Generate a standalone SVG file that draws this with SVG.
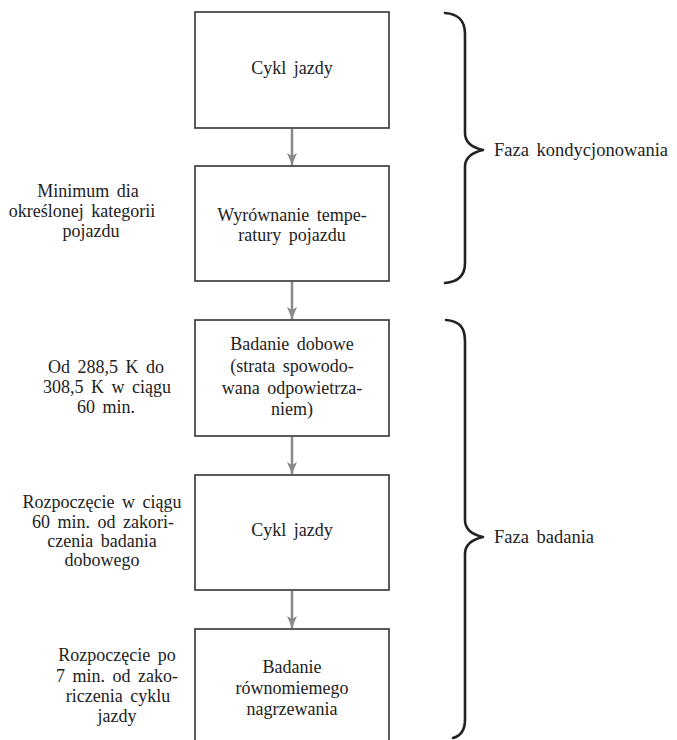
<svg xmlns="http://www.w3.org/2000/svg" width="677" height="740" viewBox="0 0 677 740">
  <style>
    .box { fill: #fff; stroke: #333; stroke-width: 1.6; }
    .t { font-family: "Liberation Serif", "DejaVu Serif", serif; font-size: 18px; fill: #222; text-anchor: middle; word-spacing: 3px; }
    .tl { font-family: "Liberation Serif", "DejaVu Serif", serif; font-size: 18.5px; fill: #222; word-spacing: 3px; }
    .conn { stroke: #8a8a8a; stroke-width: 2.5; fill: none; marker-end: url(#head); }
    .brace { stroke: #222; stroke-width: 2.6; fill: none; stroke-linecap: round; stroke-linejoin: round; }
  </style>
  <defs>
    <marker id="head" markerWidth="12" markerHeight="10" refX="12" refY="5" orient="auto" markerUnits="userSpaceOnUse">
      <path d="M0,0 L12,5 L0,10 L3,5 Z" fill="#8a8a8a"/>
    </marker>
  </defs>
  <rect width="677" height="740" fill="#fff"/>

  <!-- connectors between the steps -->
  <g id="connectors">
    <line class="conn" x1="292" y1="129" x2="292" y2="165"/>
    <line class="conn" x1="292" y1="282" x2="292" y2="319"/>
    <line class="conn" x1="292" y1="437" x2="292" y2="474"/>
    <line class="conn" x1="292" y1="591" x2="292" y2="628"/>
  </g>

  <g id="n1">
    <rect class="box" x="195" y="12" width="194" height="116"/>
    <text class="t" x="292" y="74">Cykl jazdy</text>
  </g>
  <g id="n2">
    <rect class="box" x="195" y="166" width="194" height="115"/>
    <text class="t" x="292" y="221">Wyrównanie tempe-</text>
    <text class="t" x="292" y="241">ratury pojazdu</text>
  </g>
  <g id="n3">
    <rect class="box" x="195" y="320" width="194" height="116"/>
    <text class="t" x="292" y="350">Badanie dobowe</text>
    <text class="t" x="292" y="372">(strata spowodo-</text>
    <text class="t" x="292" y="394">wana odpowietrza-</text>
    <text class="t" x="292" y="415">niem)</text>
  </g>
  <g id="n4">
    <rect class="box" x="195" y="475" width="194" height="115"/>
    <text class="t" x="292" y="536">Cykl jazdy</text>
  </g>
  <g id="n5">
    <rect class="box" x="195" y="629" width="194" height="130"/>
    <text class="t" x="292" y="673">Badanie</text>
    <text class="t" x="292" y="694">równomiemego</text>
    <text class="t" x="292" y="715">nagrzewania</text>
  </g>

  <!-- side notes -->
  <g id="note1">
    <text class="t" x="88" y="197">Minimum dia</text>
    <text class="t" x="82" y="217">określonej kategorii</text>
    <text class="t" x="91" y="237">pojazdu</text>
  </g>
  <g id="note2">
    <text class="t" x="106" y="373">Od 288,5 K do</text>
    <text class="t" x="107" y="393">308,5 K w ciągu</text>
    <text class="t" x="106" y="413">60 min.</text>
  </g>
  <g id="note3">
    <text class="t" x="102" y="508">Rozpoczęcie w ciągu</text>
    <text class="t" x="103" y="528">60 min. od zakori-</text>
    <text class="t" x="102" y="547">czenia badania</text>
    <text class="t" x="102" y="566">dobowego</text>
  </g>
  <g id="note4">
    <text class="t" x="117" y="661">Rozpoczęcie po</text>
    <text class="t" x="117" y="682">7 min. od zako-</text>
    <text class="t" x="118" y="702">riczenia cyklu</text>
    <text class="t" x="117" y="722">jazdy</text>
  </g>

  <!-- phase braces -->
  <g id="phase1">
    <path class="brace" d="M445,13 C458,14 465,20 465,34 L465,133 C465,143 474,148 483,150 C474,152 465,157 465,167 L465,263 C465,276 458,282 445,283"/>
    <text class="tl" x="494" y="156">Faza kondycjonowania</text>
  </g>
  <g id="phase2">
    <path class="brace" d="M446,320 C459,321 465,327 465,341 L465,520 C465,530 474,535 483,537 C474,539 465,544 465,554 L465,720 C465,730 460,736 453,738"/>
    <text class="tl" x="494" y="543">Faza badania</text>
  </g>
</svg>
